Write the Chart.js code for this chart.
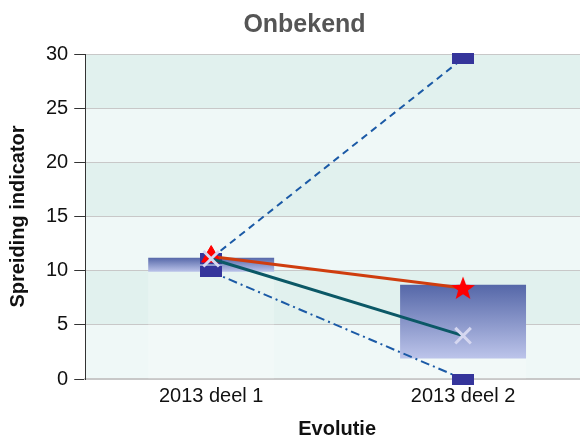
<!DOCTYPE html>
<html>
<head>
<meta charset="utf-8">
<script src="https://cdn.jsdelivr.net/npm/chart.js@4/dist/chart.umd.min.js"></script>
<style>
  html, body { margin: 0; padding: 0; background: #fff; overflow: hidden; }
  #wrap { width: 603px; height: 436px; }
</style>
</head>
<body>
<div id="wrap"><canvas id="grafico" width="603" height="436"></canvas></div>
<script>
// categorieen en waarden
const categorieen = ["2013 deel 1", "2013 deel 2"];
const maxima = [11.15, 29.6];
const minima = [9.9, 0];
const kwartielLaag = [9.9, 1.9];
const kwartielHoog = [11.2, 8.7];
const gemiddelde = [11.1, 4.0];
const referentie = [11.3, 8.4];

// markers als kleine canvasjes
function maakRechthoek() {
  const c = document.createElement("canvas");
  c.width = 22; c.height = 11;
  const g = c.getContext("2d");
  g.fillStyle = "#35359b";
  g.fillRect(0, 0, 22, 11);
  return c;
}
function maakSter() {
  const c = document.createElement("canvas");
  c.width = 26; c.height = 26;
  const g = c.getContext("2d");
  g.fillStyle = "#ff0000";
  g.beginPath();
  for (let i = 0; i < 10; i++) {
    const r = i % 2 === 0 ? 12.5 : 5.2;
    const a = -Math.PI / 2 + i * Math.PI / 5;
    const px = 13 + r * Math.cos(a), py = 14 + r * Math.sin(a);
    if (i === 0) g.moveTo(px, py); else g.lineTo(px, py);
  }
  g.closePath();
  g.fill();
  return c;
}
const rechthoek = maakRechthoek();
const ster = maakSter();

// achtergrondbanden tussen de rasterlijnen
const banden = {
  id: "banden",
  beforeDraw(chart) {
    const {ctx, chartArea, scales} = chart;
    const y = scales.y;
    const ticks = y.ticks.map(t => t.value);
    ctx.save();
    for (let i = 0; i < ticks.length - 1; i++) {
      const y0 = y.getPixelForValue(ticks[i]);
      const y1 = y.getPixelForValue(ticks[i + 1]);
      ctx.fillStyle = i % 2 === 0 ? "#eff8f7" : "#e1f1ee";
      ctx.fillRect(chartArea.left, y1, chartArea.right - chartArea.left, y0 - y1);
    }
    ctx.restore();
  }
};

function verloop(context) {
  const chart = context.chart;
  const {ctx, chartArea, scales} = chart;
  if (!chartArea || !scales.y) return "#8090c8";
  const i = context.dataIndex;
  const top = scales.y.getPixelForValue(kwartielHoog[i]);
  const bodem = scales.y.getPixelForValue(kwartielLaag[i]);
  const gr = ctx.createLinearGradient(0, top, 0, bodem);
  gr.addColorStop(0, "#5567a8");
  gr.addColorStop(1, "#bcc4ea");
  return gr;
}

const ctx = document.getElementById("grafico").getContext("2d");
new Chart(ctx, {
  data: {
    labels: categorieen,
    datasets: [
      {
        type: "bar",
        label: "spiegeling",
        data: kwartielLaag.map(v => [0, v]),
        backgroundColor: "rgba(255,255,255,0.22)",
        categoryPercentage: 0.5, barPercentage: 1,
        grouped: false,
        order: 11
      },
      {
        type: "bar",
        label: "kwartielen",
        data: kwartielLaag.map((v, i) => [v, kwartielHoog[i]]),
        backgroundColor: verloop,
        categoryPercentage: 0.5, barPercentage: 1,
        grouped: false,
        order: 10
      },
      {
        type: "line",
        label: "maximum",
        data: maxima,
        borderColor: "#1b5aa6",
        borderWidth: 2,
        borderDash: [7, 5],
        pointStyle: rechthoek,
        clip: false,
        order: 5
      },
      {
        type: "line",
        label: "minimum",
        data: minima,
        borderColor: "#1b5aa6",
        borderWidth: 2,
        borderDash: [9, 4, 2, 4],
        pointStyle: rechthoek,
        clip: false,
        order: 4
      },
      {
        type: "line",
        label: "referentie",
        data: referentie,
        borderColor: "#cf3d0e",
        borderWidth: 3,
        pointStyle: ["triangle", ster],
        pointRadius: 11,
        pointBackgroundColor: "#ff0000",
        pointBorderColor: "#ff0000",
        pointBorderWidth: 1,
        order: 3
      },
      {
        type: "line",
        label: "gemiddelde",
        data: gemiddelde,
        borderColor: "#0b5866",
        borderWidth: 3,
        pointStyle: "crossRot",
        pointRadius: 11,
        pointBorderColor: "#d5d7f0",
        pointBorderWidth: 3,
        order: 2
      }
    ]
  },
  options: {
    responsive: false,
    animation: false,
    layout: { padding: { left: 6, right: 0, top: 4, bottom: -3 } },
    plugins: {
      legend: { display: false },
      tooltip: { enabled: false },
      title: {
        display: true,
        text: "Onbekend",
        color: "#555555",
        font: { family: "Liberation Sans", size: 25, weight: "bold" },
        padding: { top: 6, bottom: 14 }
      }
    },
    scales: {
      x: {
        grid: { display: false, drawTicks: false },
        border: { display: true, color: "#c8c8c8", width: 2 },
        ticks: {
          color: "#111",
          font: { family: "Liberation Sans", size: 20, lineHeight: 1 },
          padding: 7
        },
        title: {
          display: true,
          text: "Evolutie",
          color: "#111",
          font: { family: "Liberation Sans", size: 20, weight: "bold", lineHeight: 1 },
          padding: { top: 6, bottom: 0 }
        }
      },
      y: {
        min: 0, max: 30,
        ticks: {
          stepSize: 5,
          color: "#111",
          font: { family: "Liberation Sans", size: 20 },
          padding: 6
        },
        grid: { color: "#c8c8c8", tickColor: "#333", tickLength: 11 },
        border: { color: "#333", width: 1 },
        title: {
          display: true,
          text: "Spreiding indicator",
          color: "#111",
          font: { family: "Liberation Sans", size: 20, weight: "bold" },
          padding: { top: 0, bottom: 10 }
        }
      }
    }
  },
  plugins: [banden]
});
</script>
</body>
</html>
